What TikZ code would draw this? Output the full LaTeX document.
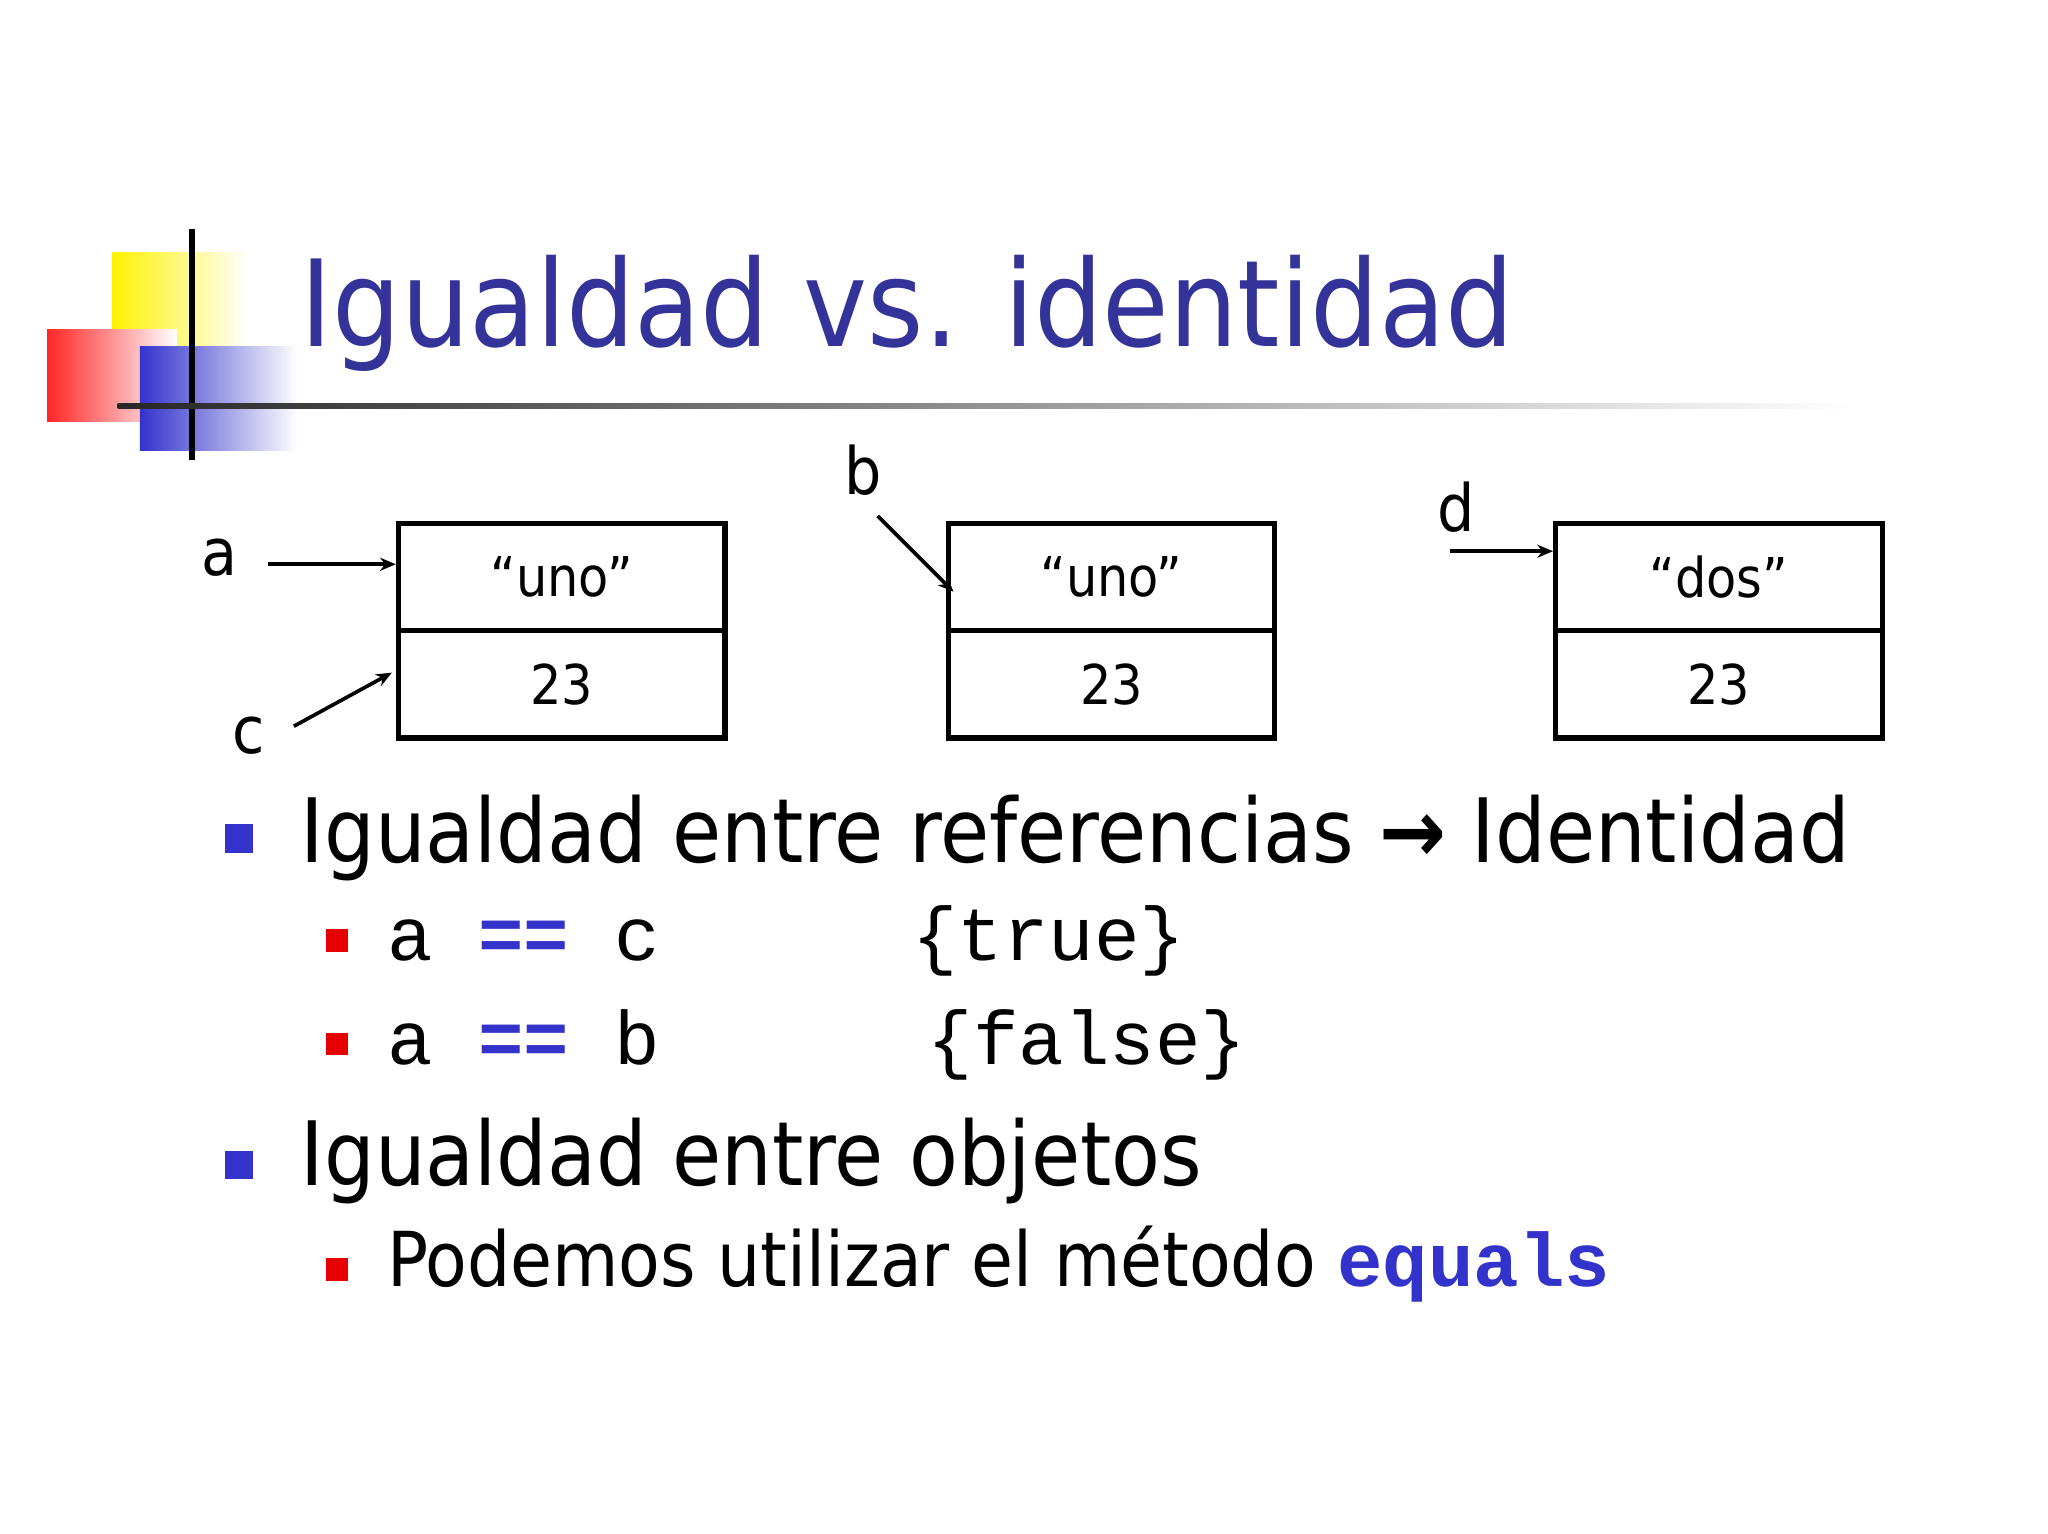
\documentclass[tikz,border=0pt]{standalone}
\usepackage{fontspec}
\setmainfont{DejaVu Sans Condensed}
\newfontfamily\monof{Liberation Mono}
\newfontfamily\symf{DejaVu Sans}
\usetikzlibrary{arrows.meta}
\definecolor{ttl}{RGB}{51,51,153}
\definecolor{bblue}{RGB}{51,51,204}
\definecolor{bred}{RGB}{230,0,0}
\tikzset{box/.style={draw,line width=2pt,minimum width=125pt,minimum height=41pt,inner sep=0pt,font=\fontsize{21}{24}\selectfont},
ptr/.style={line width=1.4pt,-{Stealth[length=6pt,width=5pt]}},
lbl/.style={font=\fontsize{25}{28}\selectfont,inner sep=0pt},
bb/.style={fill=bblue,minimum size=11pt,inner sep=0pt},
rb/.style={fill=bred,minimum size=8.5pt,inner sep=0pt},
mono/.style={anchor=base west,inner sep=0pt,font=\monof\fontsize{29}{32}\selectfont}}
\begin{document}
\begin{tikzpicture}[x=0.5pt,y=-0.5pt]
\useasboundingbox[fill=white] (0,0) rectangle (1568,1174);
% decoration
\shade[left color=yellow!90!orange,right color=white] (86,193) rectangle (190,290);
\shade[left color=red!85,right color=white] (36,252) rectangle (135,323);
\shade[left color=bblue,right color=white] (107,265) rectangle (228,345);
\draw[line width=2pt] (147,175) -- (147,352);
\shade[left color=black!85,right color=white] (90,309) rectangle (1420,313);
\node[anchor=base west,inner sep=0pt,text=ttl,font=\fontsize{46}{52}\selectfont] (title) at (230,265) {Igualdad vs. identidad};
% boxes
\node[box] (s1) at (430,442) {“uno”};
\node[box] (n1) at (430,524) {23};
\node[box] (s2) at (851,442) {“uno”};
\node[box] (n2) at (851,524) {23};
\node[box] (s3) at (1316,442) {“dos”};
\node[box] (n3) at (1316,524) {23};
\node[lbl] (la) at (168,427) {a};
\node[lbl] (lc) at (190,563) {c};
\node[lbl] (lb) at (661,360) {b};
\node[lbl] (ld) at (1115,388) {d};
\coordinate (a0) at (205,432); \coordinate (c0) at (225,556);
\coordinate (b0) at (672,395); \coordinate (d0) at (1110,422);
\draw[ptr] (a0) -- (s1.west |- a0);
\draw[ptr] (c0) -- (300,515);
\draw[ptr] (b0) -- (730,453);
\draw[ptr] (d0) -- (s3.west |- d0);
% bullets
\node[bb] (b1) at (183,642) {};
\node[anchor=base west,inner sep=0pt,font=\fontsize{34}{40}\selectfont] (t1) at (230,660) {Igualdad entre referencias {\bfseries→} Identidad};
\node[rb] (r1) at (258,720) {};
\node[mono] (t2) at (296,735) {a \textcolor{bblue}{\textbf{==}} c};
\node[mono] (t2b) at (698,735) {\{true\}};
\node[rb] (r2) at (258,799) {};
\node[mono] (t3) at (296,815) {a \textcolor{bblue}{\textbf{==}} b};
\node[mono] (t3b) at (710,815) {\{false\}};
\node[bb] (b2) at (183,892) {};
\node[anchor=base west,inner sep=0pt,font=\fontsize{34}{40}\selectfont] (t4) at (230,908) {Igualdad entre objetos};
\node[rb] (r3) at (258,972) {};
\node[anchor=base west,inner sep=0pt,font=\fontsize{29}{32}\selectfont] (t5) at (296,985) {Podemos utilizar el método \textcolor{bblue}{\monof\bfseries equals}};
\end{tikzpicture}
\end{document}
